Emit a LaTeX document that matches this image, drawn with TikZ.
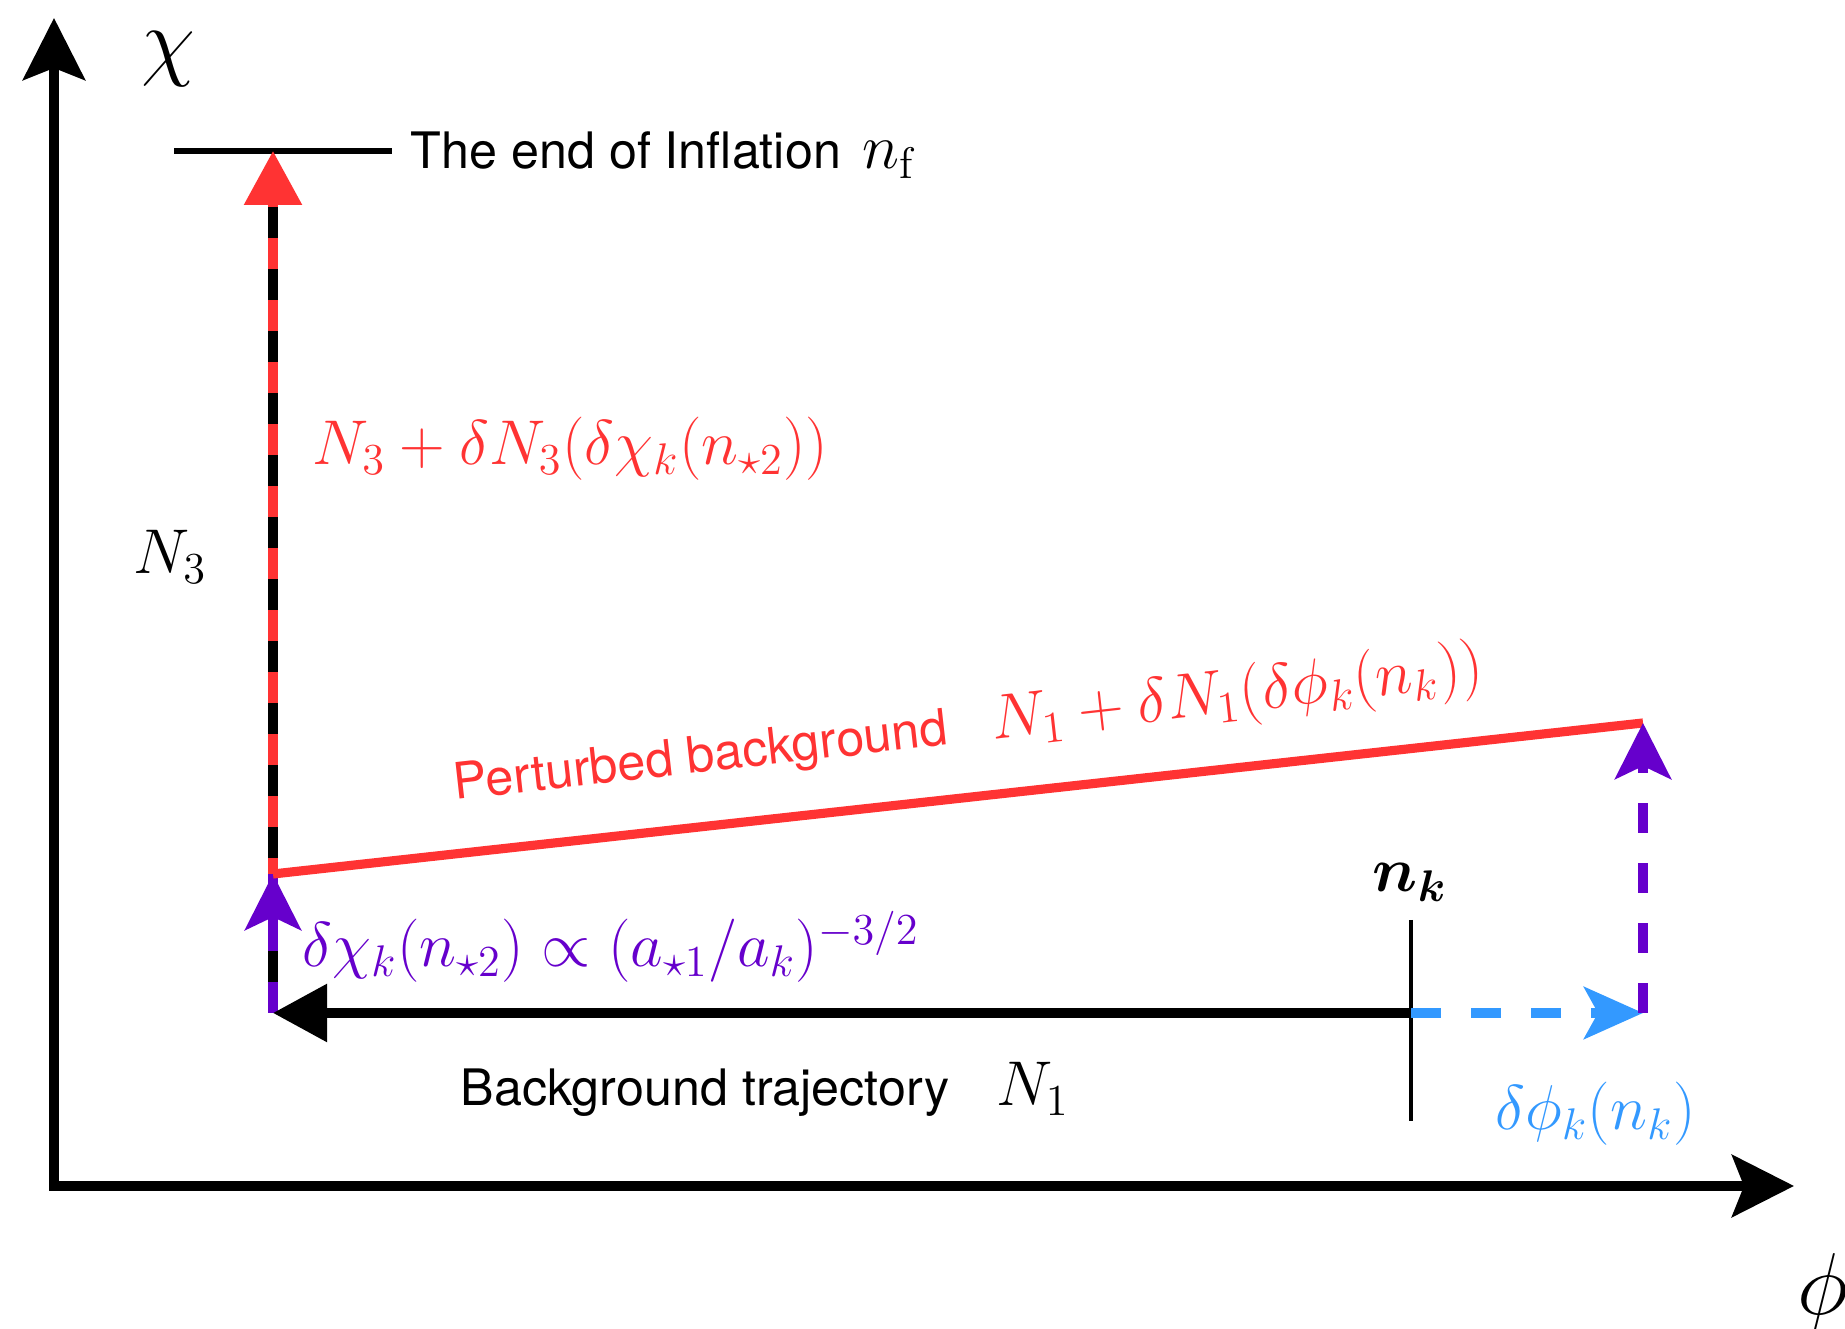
\RequirePackage{fix-cm}
\documentclass[tikz,border=0pt]{standalone}
\usepackage{fontspec}
\usepackage{amsmath}
\usepackage{tikz}
\usetikzlibrary{arrows.meta,calc}
\newfontfamily\heros{TeX Gyre Heros}
\definecolor{pertRed}{RGB}{255,51,51}
\definecolor{kickPurple}{RGB}{102,0,204}
\definecolor{shiftBlue}{RGB}{51,153,255}
\newcommand{\lbltext}[1]{{\heros\fontsize{14.3}{17}\selectfont #1}}

\begin{document}
\begin{tikzpicture}[
  axis/.style={{Stealth[length=6.2mm,width=6.2mm,inset=1.2mm]}-{Stealth[length=6.2mm,width=6.2mm,inset=1.2mm]},
               line width=2.6pt,miter limit=4},
  traj/.style={line width=2.6pt},
  dashy/.style={dash pattern=on 3mm off 3mm},
  tri/.style={-{Triangle[length=5.4mm,width=5.6mm]}},
  stl/.style={-{Stealth[length=5.6mm,width=5.6mm,inset=1.3mm]}},
  lbl/.style={font=\fontsize{18}{21}\selectfont,inner sep=0pt},
  big/.style={font=\fontsize{25}{30}\selectfont,inner sep=0pt}
]
  \path[fill=white] (0,0) rectangle (18.45,13.29);
  \useasboundingbox (0,0) rectangle (18.45,13.29);

  \coordinate (O)    at (0.54,1.43);
  \coordinate (ytop) at (0.54,13.11);
  \coordinate (xend) at (17.94,1.43);
  \coordinate (A)    at (2.73,3.16);
  \coordinate (B)    at (2.73,4.55);
  \coordinate (Bh)   at (2.73,3.98);
  \coordinate (T)    at (2.73,11.78);
  \coordinate (Tb)   at (2.73,11.22);
  \coordinate (endL) at (1.74,11.78);
  \coordinate (endR) at (3.92,11.78);
  \coordinate (K)    at (14.11,3.16);
  \coordinate (P)    at (16.43,3.16);
  \coordinate (Q)    at (16.43,6.06);
  \coordinate (tkT)  at (14.11,4.09);
  \coordinate (tkB)  at (14.11,2.08);

  \draw[axis] (ytop) -- (O) -- (xend);
  \node[big] (chi) at (1.68,12.70) {$\chi$};
  \node[big,anchor=west] (phi) at (17.97,0.36) {$\phi$};

  \draw[line width=1.6pt] (endL) -- (endR);
  \node[lbl,anchor=base west] (endtxt) at (4.10,11.60) {\lbltext{The end of Inflation}\hspace{2.2mm}$n_{\mathrm{f}}$};

  \draw[traj,pertRed,tri] (B) -- (T);
  \draw[traj,kickPurple] (A) -- (B);
  \draw[traj,dash pattern=on 3.1mm off 3.1mm,dash phase=3.1mm] (A) -- (Tb);
  \draw[traj,kickPurple,stl] (Bh) -- (B);
  \node[lbl,anchor=base west] (N3) at (1.33,7.55) {$N_3$};
  \node[lbl,anchor=base west,text=pertRed] (N3pert) at (3.12,8.64)
    {$N_3+\delta N_3(\delta\chi_k(n_{\star 2}))$};

  \draw[traj,pertRed] (B) -- (Q);
  \node[lbl,anchor=base west,text=pertRed,rotate=6.4] (pert) at (4.55,5.29)
    {\lbltext{Perturbed background}\hspace{4.5mm}$N_1+\delta N_1(\delta\phi_k(n_k))$};

  \draw[traj,tri] (K) -- (A);
  \draw[line width=1.4pt] (tkT) -- (tkB);
  \node[lbl,anchor=base west] (nk) at (13.72,4.37) {$\boldsymbol{n_k}$};
  \node[lbl,anchor=base west] (bgtxt) at (4.60,2.23)
    {\lbltext{Background trajectory}\hspace{4.7mm}$N_1$};
  \node[lbl,anchor=base west,text=kickPurple] (dchi) at (3.02,3.62)
    {$\delta\chi_k(n_{\star 2})\propto(a_{\star 1}/a_k)^{-3/2}$};

  \draw[traj,shiftBlue,dashy,-{Stealth[length=5.9mm,width=5.2mm,inset=1.4mm]}] (K) -- (P);
  \draw[traj,kickPurple,dashy,stl] (P) -- (Q);
  \node[lbl,anchor=base west,text=shiftBlue] (dphi) at (14.95,1.99) {$\delta\phi_k(n_k)$};
\end{tikzpicture}
\end{document}
